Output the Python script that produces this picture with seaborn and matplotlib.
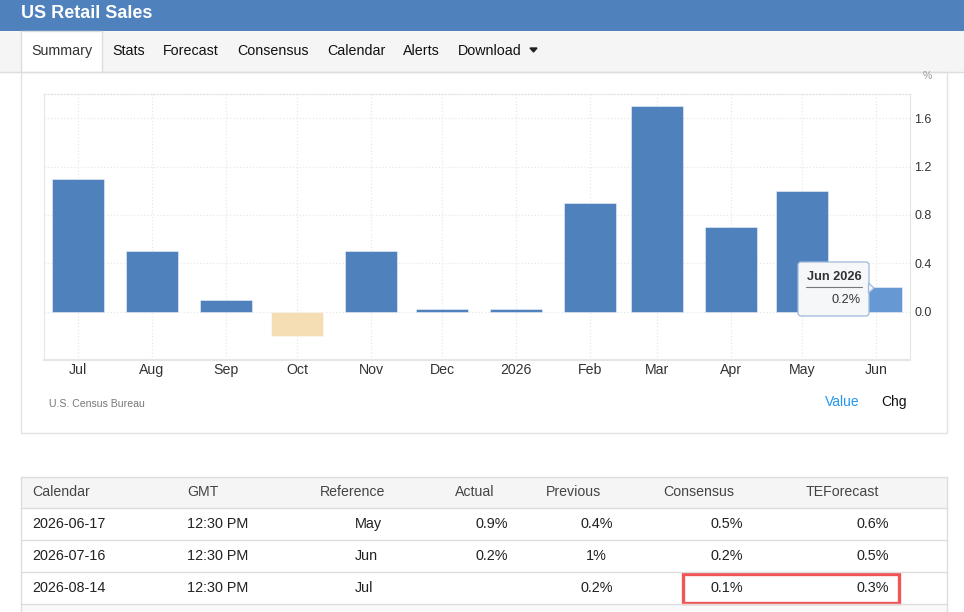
import numpy as np
import pandas as pd
import matplotlib
matplotlib.use("Agg")
import matplotlib.pyplot as plt
from matplotlib.patches import Rectangle, FancyBboxPatch, Polygon
import seaborn as sns

# monthly change of US retail sales, %
months = ["2025-07-01", "2025-08-01", "2025-09-01", "2025-10-01", "2025-11-01", "2025-12-01",
          "2026-01-01", "2026-02-01", "2026-03-01", "2026-04-01", "2026-05-01", "2026-06-01"]
month_labels = ["Jul", "Aug", "Sep", "Oct", "Nov", "Dec", "2026", "Feb", "Mar", "Apr", "May", "Jun"]
sales_chg = [1.1, 0.5, 0.1, -0.2, 0.5, 0.02, 0.02, 0.9, 1.7, 0.7, 1.0, 0.2]
bar_kind = ["up", "up", "up", "down", "up", "up", "up", "up", "up", "up", "up", "hover"]
y_ticks = [0.0, 0.4, 0.8, 1.2, 1.6]

# calendar table
table_header = ["Calendar", "GMT", "Reference", "Actual", "Previous", "Consensus", "TEForecast"]
cal_dates = ["2026-06-17", "2026-07-16", "2026-08-14"]
cal_gmt = ["12:30 PM", "12:30 PM", "12:30 PM"]
cal_reference = ["May", "Jun", "Jul"]
cal_actual = ["0.9%", "0.2%", ""]
cal_previous = ["0.4%", "1%", "0.2%"]
cal_consensus = ["0.5%", "0.2%", "0.1%"]
cal_teforecast = ["0.6%", "0.5%", "0.3%"]

tabs = ["Summary", "Stats", "Forecast", "Consensus", "Calendar", "Alerts", "Download"]
tab_x = [31, 112, 163, 237, 327, 403, 458]

BLUE = "#4f81bd"
W, H = 964, 612

sns.set_style("white")
plt.rcParams["font.family"] = ["Liberation Sans", "DejaVu Sans"]

fig = plt.figure(figsize=(W / 100, H / 100), dpi=100)

# page layer (pixel coordinates, y down)
page = fig.add_axes([0, 0, 1, 1], zorder=-1)
page.set_xlim(0, W)
page.set_ylim(H, 0)
page.axis("off")

page.add_patch(Rectangle((0, 0), W, 31, color=BLUE, lw=0))
page.text(21, 14, "US Retail Sales", color="white", fontsize=13, fontweight="bold", va="center")

page.add_patch(Rectangle((0, 31), W, 41, facecolor="#f5f5f5", edgecolor="none"))
page.plot([0, W], [72, 72], color="#dddddd", lw=1)
page.add_patch(Rectangle((21, 31), 81, 42, facecolor="white", edgecolor="#dddddd", lw=1))
for name, x in zip(tabs, tab_x):
    page.text(x, 51, name, fontsize=10.3, va="center",
              color="#333333" if name == "Summary" else "#111111")
page.add_patch(Polygon([[530, 48], [537, 48], [533.5, 52]], closed=True, color="#222222"))

# chart panel
page.add_patch(Rectangle((21, 72), 926, 361, facecolor="white", edgecolor="#e3e3e3", lw=1))
page.text(927, 76, "%", fontsize=7.5, color="#999999", va="center", ha="center")
page.text(49, 404, "U.S. Census Bureau", fontsize=7.6, color="#777777", va="center")
page.text(825, 402, "Value", fontsize=10, color="#2196f3", va="center")
page.text(881, 402, "Chg", fontsize=10, color="#111111", va="center")

# calendar table
page.add_patch(Rectangle((21, 477), 926, 31, facecolor="#f5f5f5", edgecolor="none"))
page.add_patch(Rectangle((21, 604), 926, 10, facecolor="#f9f9f9", edgecolor="none"))
for yl in [477, 508, 540, 572, 604]:
    page.plot([21, 947], [yl, yl], color="#dddddd", lw=1)
page.plot([21, 21], [477, 612], color="#dddddd", lw=1)
page.plot([947, 947], [477, 612], color="#dddddd", lw=1)

header_x = [32, 187, 320, 455, 546, 663, 806]
for name, x in zip(table_header, header_x):
    page.text(x, 492, name, fontsize=10.2, color="#444444", va="center")

columns = [cal_dates, cal_gmt, cal_reference, cal_actual, cal_previous, cal_consensus, cal_teforecast]
col_x = [32, 187, 355, 492, 596.5, 727, 873]
col_ha = ["left", "left", "left", "center", "center", "center", "center"]
row_y = [524, 556, 588]
for col, x, ha in zip(columns, col_x, col_ha):
    for val, y in zip(col, row_y):
        page.text(x, y, val, fontsize=10.4, color="#222222", va="center", ha=ha)

page.add_patch(Rectangle((683, 574), 216, 29, facecolor="none", edgecolor="#f25555", lw=2.4))

# bar chart
day = (pd.to_datetime(months) - pd.Timestamp(months[0])).days.astype(float)
df = pd.DataFrame({"day": day, "chg": sales_chg, "kind": bar_kind})

ax = fig.add_axes([44 / W, 1 - 360 / H, 866 / W, 266 / H])
sns.barplot(data=df, x="day", y="chg", hue="kind", native_scale=True, dodge=False,
            palette={"up": BLUE, "down": "#f5deb3", "hover": "#6699d4"}, saturation=1,
            width=0.78, errorbar=None, legend=False, edgecolor=(1, 1, 1, 0.45), linewidth=0.7,
            ax=ax, zorder=3)

ax.set_xlim(-14.3, 349.3)
ax.set_ylim(-0.4, 1.8)
ax.set_xticks(day)
ax.set_xticklabels(month_labels)
ax.set_yticks(y_ticks)
ax.set_yticklabels([f"{v:.1f}" for v in y_ticks])
ax.yaxis.tick_right()
ax.tick_params(axis="x", length=0, pad=2.5, labelsize=10.2, labelcolor="#333333")
ax.tick_params(axis="y", length=0, pad=3, labelsize=9, labelcolor="#333333")
ax.set_xlabel("")
ax.set_ylabel("")
ax.grid(True, color="#e8e8e8", linestyle=":", lw=0.9, zorder=0)
ax.set_axisbelow(True)
for side in ["left", "right"]:
    ax.spines[side].set_color("#e6e6e6")
    ax.spines[side].set_linewidth(0.8)
ax.spines["bottom"].set_color("#e6e6e6")
ax.spines["bottom"].set_linewidth(1.5)
ax.spines["top"].set_color("#e3e3e3")
ax.spines["top"].set_linestyle(":")
ax.spines["top"].set_linewidth(0.9)

# hover tooltip over the last bar
over = fig.add_axes([0, 0, 1, 1], zorder=10)
over.set_xlim(0, W)
over.set_ylim(H, 0)
over.axis("off")
over.patch.set_alpha(0)
over.add_patch(FancyBboxPatch((798, 262), 71, 54, boxstyle="round,pad=0,rounding_size=3",
                              facecolor="#f6f7f9", edgecolor="#9fb9dc", lw=0.9))
over.add_patch(Polygon([[868.5, 283], [874, 288], [868.5, 293]], closed=True,
                       facecolor="#f6f7f9", edgecolor="#9fb9dc", lw=0.9))
over.text(834, 277, "Jun 2026", fontsize=9.2, fontweight="bold", color="#333333",
          ha="center", va="center")
over.plot([806, 862], [286.5, 286.5], color="#777777", lw=0.8)
over.text(861, 300, f"{sales_chg[-1]:.1f}%", fontsize=9.2, color="#333333", ha="right", va="center")

fig.savefig("out.png", dpi=100)
